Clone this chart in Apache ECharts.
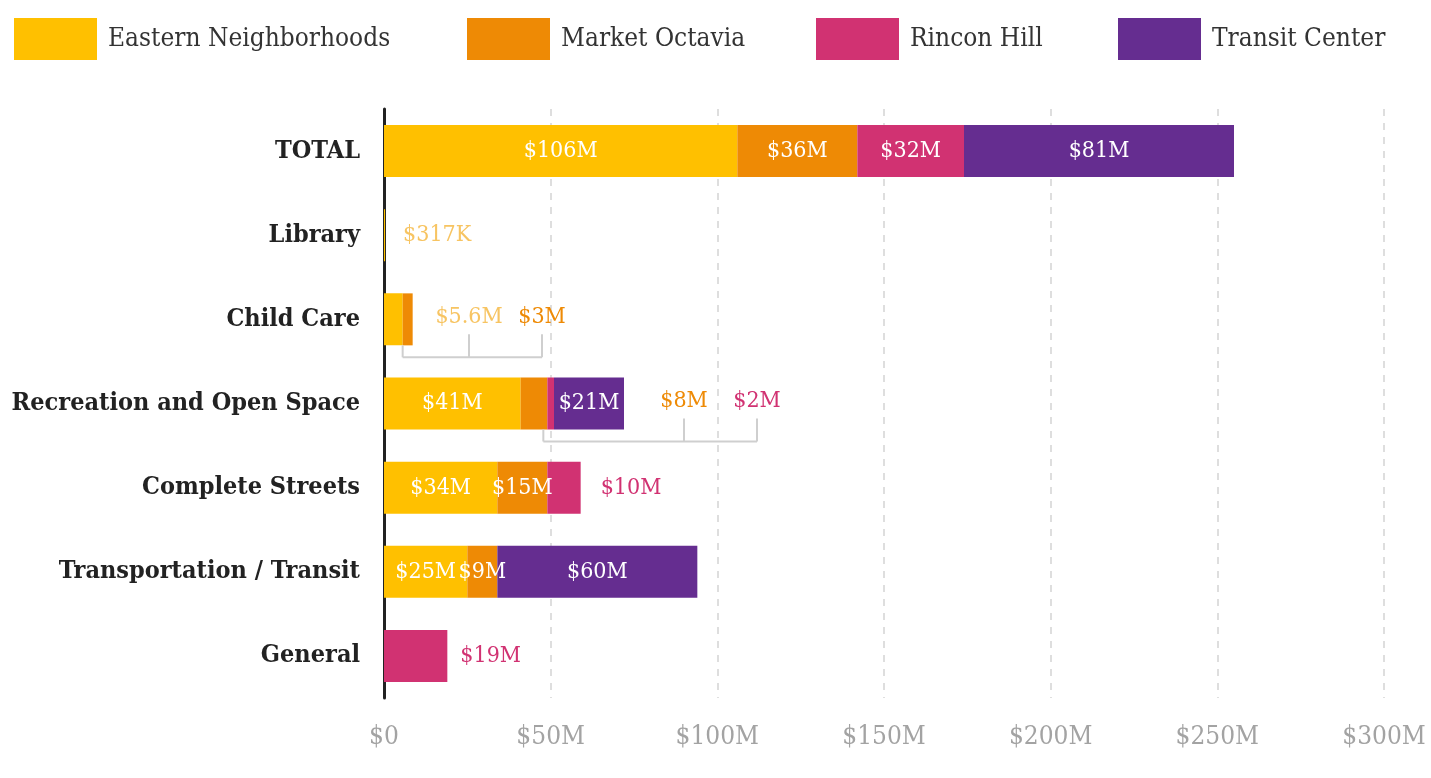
<!DOCTYPE html>
<html>
<head>
<meta charset="utf-8">
<script src="https://cdn.jsdelivr.net/npm/echarts@6/dist/echarts.min.js"></script>
<style>
  html, body { margin: 0; padding: 0; background: #fff; }
  #chart { width: 1431px; height: 778px; }
</style>
</head>
<body>
<div id="chart"></div>
<script>
const FONT = '"DejaVu Serif Condensed", "DejaVu Serif", serif';

const categories = ['TOTAL', 'Library', 'Child Care', 'Recreation and Open Space',
  'Complete Streets', 'Transportation / Transit', 'General'];

// millions of dollars
const easternNeighborhoods = [106, 0.317, 5.6, 41, 34, 25, 0];
const marketOctavia = [36, 0, 3, 8, 15, 9, 0];
const rinconHill = [32, 0, 0, 2, 10, 0, 19];
const transitCenter = [81, 0, 0, 21, 0, 60, 0];

const xTicks = [0, 50, 100, 150, 200, 250, 300];

const COLORS = {
  'Eastern Neighborhoods': '#ffc000',
  'Market Octavia': '#ee8a05',
  'Rincon Hill': '#d13272',
  'Transit Center': '#652d90',
};
const PALE_YELLOW = '#f7c462';

const money = v => (v >= 1 ? `$${v}M` : `$${Math.round(v * 1000)}K`);

// labels drawn just right of the bar end (distance in px)
const outsideLabels = {
  'Eastern Neighborhoods': { 1: 18 },
  'Rincon Hill': { 4: 20, 6: 13 },
};

// small segments labelled off to the side with a bracket
const brackets = [
  { cat: 2, from: 5.6, items: [
    { series: 'Eastern Neighborhoods', at: 25.5, color: PALE_YELLOW },
    { series: 'Market Octavia', at: 47.4 },
  ] },
  { cat: 3, from: 47.8, items: [
    { series: 'Market Octavia', at: 90 },
    { series: 'Rincon Hill', at: 111.9 },
  ] },
];

const seriesData = {
  'Eastern Neighborhoods': easternNeighborhoods,
  'Market Octavia': marketOctavia,
  'Rincon Hill': rinconHill,
  'Transit Center': transitCenter,
};

const isBracketed = (name, i) =>
  brackets.some(b => b.cat === i && b.items.some(it => it.series === name));

function barSeries(name) {
  const values = seriesData[name];
  return {
    name,
    type: 'bar',
    stack: 'total',
    barWidth: 52,
    itemStyle: { color: COLORS[name] },
    data: values.map((v, i) => {
      const item = { value: v };
      const out = outsideLabels[name] && outsideLabels[name][i];
      if (v <= 0 || isBracketed(name, i)) {
        item.label = { show: false };
      } else if (out !== undefined) {
        item.label = {
          show: true,
          position: 'right',
          distance: out,
          color: name === 'Eastern Neighborhoods' ? PALE_YELLOW : COLORS[name],
        };
      } else {
        item.label = { show: true, position: 'inside', color: '#fff' };
      }
      return item;
    }),
    label: {
      fontFamily: FONT,
      fontSize: 23,
      formatter: p => money(p.value),
    },
    emphasis: { disabled: true },
  };
}

const bracketSeries = {
  type: 'custom',
  z: 5,
  silent: true,
  encode: { x: 0, y: 1 },
  data: brackets.map(b => [b.from, b.cat]),
  renderItem(params, api) {
    const b = brackets[params.dataIndex];
    const start = api.coord([b.from, b.cat]);
    const yc = start[1];
    const yLine = yc + 38;
    const xs = b.items.map(it => api.coord([it.at, b.cat])[0]);
    const lineStyle = { stroke: '#cfcfcf', lineWidth: 2 };
    const children = [
      { type: 'line', shape: { x1: start[0], y1: yLine, x2: xs[xs.length - 1], y2: yLine }, style: lineStyle },
      { type: 'line', shape: { x1: start[0], y1: yc + 26, x2: start[0], y2: yLine }, style: lineStyle },
    ];
    b.items.forEach((it, k) => {
      children.push({ type: 'line', shape: { x1: xs[k], y1: yc + 15, x2: xs[k], y2: yLine }, style: lineStyle });
      children.push({
        type: 'text',
        x: xs[k],
        y: yc - 2,
        style: {
          text: money(seriesData[it.series][b.cat]),
          fill: it.color || COLORS[it.series],
          font: `23px ${FONT}`,
          align: 'center',
          verticalAlign: 'middle',
        },
      });
    });
    return { type: 'group', children };
  },
};

const legendLefts = [14, 467, 816, 1118];
const names = Object.keys(seriesData);

const chart = echarts.init(document.getElementById('chart'));

chart.setOption({
  backgroundColor: '#fff',
  animation: false,
  legend: names.map((n, i) => ({
    data: [n],
    left: legendLefts[i],
    top: 18,
    padding: 0,
    icon: 'rect',
    itemWidth: 83,
    itemHeight: 42,
    itemGap: 15,
    selectedMode: false,
    textStyle: { fontFamily: FONT, fontSize: 26, color: '#333', padding: [4, 0, 0, 6] },
  })),
  grid: { left: 384, right: 47, top: 109, bottom: 80 },
  xAxis: {
    type: 'value',
    min: xTicks[0],
    max: xTicks[xTicks.length - 1],
    interval: 50,
    axisLine: { show: false },
    axisTick: { show: false },
    axisLabel: {
      fontFamily: FONT,
      fontSize: 26,
      color: '#a3a3a3',
      margin: 26,
      formatter: v => (v === 0 ? '$0' : `$${v}M`),
    },
    splitLine: {
      show: true,
      lineStyle: { color: '#d4d4d4', type: [7, 7], width: 1.5 },
    },
  },
  yAxis: {
    type: 'category',
    inverse: true,
    data: categories,
    axisLine: { show: true, lineStyle: { color: '#222', width: 3 } },
    axisTick: { show: false },
    axisLabel: {
      fontFamily: FONT,
      fontWeight: 'bold',
      fontSize: 25,
      color: '#222',
      margin: 24,
    },
  },
  series: [...names.map(barSeries), bracketSeries],
});
</script>
</body>
</html>
